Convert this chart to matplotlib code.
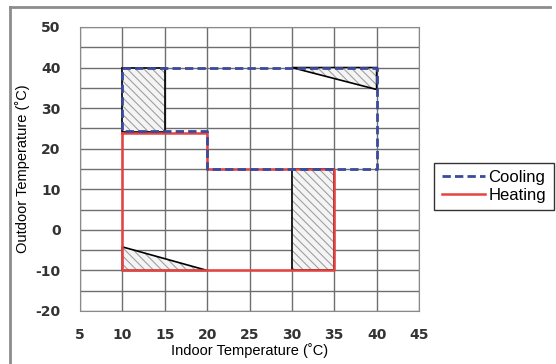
import matplotlib.pyplot as plt
from matplotlib.patches import Polygon
from matplotlib.lines import Line2D

# operating range outlines
cool_x = [10, 40, 40, 20, 20, 10, 10]
cool_y = [40, 40, 15, 15, 24.3, 24.3, 40]
heat_x = [10, 20, 20, 35, 35, 10, 10]
heat_y = [23.8, 23.8, 15, 15, -10, -10, 23.8]

# hatched zones (x list, y list)
zones = [
    ([10, 15, 15, 10], [24, 24, 40, 40]),
    ([30, 40, 40], [40, 40, 34.6]),
    ([30, 35, 35, 30], [-10, -10, 15, 15]),
    ([10, 10, 20], [-4.2, -10, -10]),
]

yticks = [-20, -10, 0, 10, 20, 30, 40, 50]

plt.rcParams['font.family'] = ['Liberation Sans', 'DejaVu Sans']
plt.rcParams['hatch.linewidth'] = 0.8

fig = plt.figure(figsize=(5.56, 3.64), dpi=100)
ax = fig.add_axes([80/556, 1-311/364, 339/556, 284/364])

ax.set_xlim(5, 45)
ax.set_ylim(-20, 50)
ax.set_xticks(range(5, 46, 5))
ax.set_yticks(range(-20, 51, 5))
ax.set_yticklabels([str(v) if v in yticks else '' for v in range(-20, 51, 5)])
ax.grid(True, color='#6e6e6e', linewidth=1)
ax.set_axisbelow(True)
ax.tick_params(length=0, labelcolor='#333333')
ax.tick_params(axis='x', pad=12)
ax.tick_params(axis='y', pad=14)
for lab in ax.get_xticklabels() + ax.get_yticklabels():
    lab.set_fontweight('bold')
    lab.set_fontfamily('DejaVu Sans')
    lab.set_fontsize(10)
for s in ax.spines.values():
    s.set_color('#8a8a8a')

for zx, zy in zones:
    pts = list(zip(zx, zy))
    hp = Polygon(pts, closed=True, facecolor='#f4f4f4', edgecolor='#a0a0a0',
                 linewidth=0, hatch='\\\\\\\\', zorder=3)
    ax.add_patch(hp)
    ax.add_patch(Polygon(pts, closed=True, fill=False, edgecolor='black',
                         linewidth=1.2, zorder=3.5))

ax.plot(heat_x, heat_y, color='#e8423f', linewidth=1.8, zorder=4)
ax.plot(cool_x, cool_y, color='#3a4a9c', linewidth=2, linestyle=(0, (3, 1.5)), zorder=5)

ax.set_xlabel('Indoor Temperature (˚C)', fontsize=10.5, labelpad=1)
ax.set_ylabel('Outdoor Temperature (˚C)', fontsize=10.5, labelpad=4)

handles = [Line2D([], [], color='#3a4a9c', linewidth=2, linestyle=(0, (3, 1.5))),
           Line2D([], [], color='#e8423f', linewidth=1.8)]
leg = fig.legend(handles, ['Cooling', 'Heating'], loc='center',
                 bbox_to_anchor=(494/556, 1-186.5/364), fontsize=12, frameon=True,
                 fancybox=False, edgecolor='black', handlelength=2.6,
                 handletextpad=0.2, borderpad=0.45, labelspacing=0.15,
                 borderaxespad=0)
leg.get_frame().set_linewidth(1)

# outer frame (top and left edges)
fig.add_artist(Line2D([10/556, 10/556], [0, 1-7/364], color='#8c8c8c', linewidth=2))
fig.add_artist(Line2D([10/556, 550/556], [1-7/364, 1-7/364], color='#8c8c8c', linewidth=2))

fig.savefig('out.png', dpi=100)
